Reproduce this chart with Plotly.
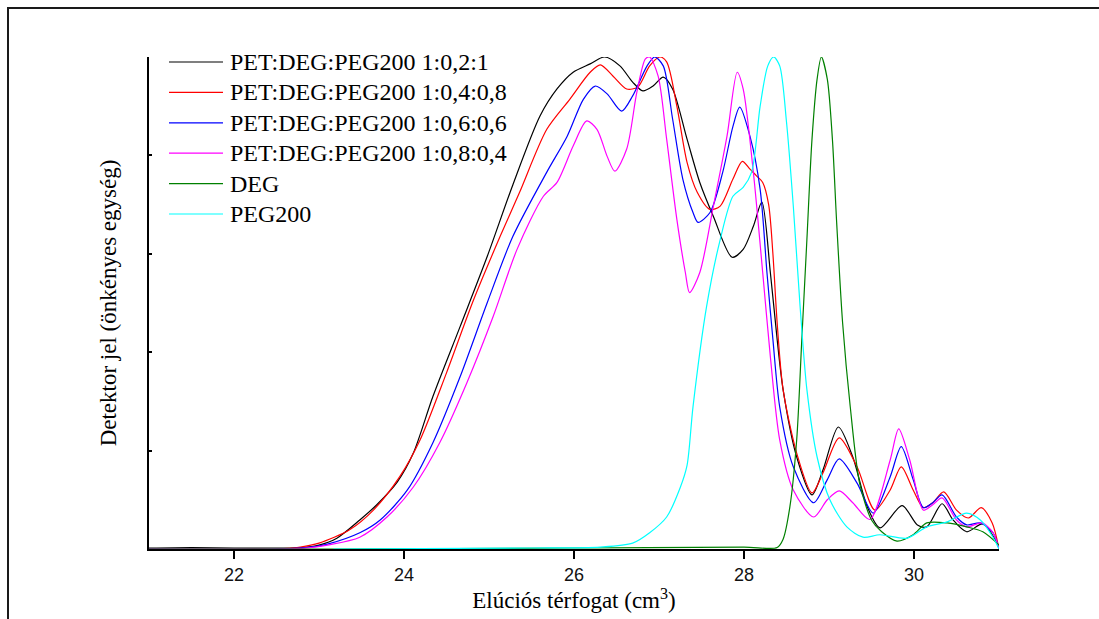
import plotly.graph_objects as go

# ---------------- data ----------------
black_x = [21.0, 21.5, 22.0, 22.5, 22.8, 23.0, 23.21, 23.48, 23.68, 23.92, 24.11, 24.34, 24.66, 24.98,
           25.28, 25.6, 25.8, 25.99, 26.19, 26.36, 26.54, 26.69, 26.81, 26.93, 27.05, 27.16, 27.33,
           27.48, 27.64, 27.86, 27.99, 28.11, 28.21, 28.31, 28.39, 28.46, 28.62, 28.8, 28.93, 29.11,
           29.28, 29.45, 29.6, 29.86, 30.04, 30.15, 30.33, 30.46, 30.62, 30.81, 31.0]
black_y = [0.002, 0.003, 0.002, 0.002, 0.003, 0.008, 0.022, 0.059, 0.09, 0.136, 0.195, 0.31, 0.452, 0.595,
           0.74, 0.88, 0.935, 0.969, 0.986, 1.0, 0.982, 0.949, 0.931, 0.941, 0.959, 0.935, 0.833,
           0.745, 0.676, 0.593, 0.609, 0.656, 0.705, 0.562, 0.426, 0.324, 0.187, 0.11, 0.161, 0.248,
           0.187, 0.086, 0.043, 0.088, 0.049, 0.045, 0.092, 0.059, 0.035, 0.051, 0.004]

red_x = [21.0, 22.5, 22.78, 23.0, 23.36, 23.64, 23.95, 24.19, 24.5, 24.82, 25.13, 25.36, 25.68, 25.95,
         26.19, 26.31, 26.46, 26.62, 26.75, 26.89, 27.01, 27.09, 27.21, 27.33, 27.45, 27.6, 27.72,
         27.87, 27.98, 28.07, 28.15, 28.22, 28.29, 28.34, 28.39, 28.46, 28.62, 28.8, 28.93, 29.12,
         29.33, 29.54, 29.72, 29.85, 29.99, 30.11, 30.22, 30.35, 30.5, 30.64, 30.79, 30.92, 31.0]
red_y = [0.0, 0.0, 0.004, 0.012, 0.039, 0.079, 0.147, 0.222, 0.358, 0.507, 0.635, 0.725, 0.853, 0.914,
         0.969, 0.984, 0.961, 0.935, 0.939, 0.982, 1.0, 0.99, 0.9, 0.786, 0.725, 0.69, 0.697,
         0.752, 0.788, 0.772, 0.758, 0.745, 0.70, 0.60, 0.46, 0.324, 0.195, 0.114, 0.155, 0.226,
         0.167, 0.079, 0.12, 0.167, 0.12, 0.084, 0.094, 0.116, 0.079, 0.063, 0.084, 0.053, 0.0]

blue_x = [21.0, 22.5, 22.85, 23.1, 23.48, 23.72, 24.04, 24.34, 24.66, 24.98, 25.28, 25.68, 25.92, 26.11,
          26.25, 26.39, 26.56, 26.69, 26.86, 26.95, 27.05, 27.16, 27.28, 27.4, 27.46, 27.6, 27.75,
          27.87, 27.95, 28.07, 28.19, 28.27, 28.34, 28.42, 28.58, 28.82, 28.98, 29.12, 29.33, 29.52,
          29.72, 29.85, 29.99, 30.11, 30.22, 30.33, 30.5, 30.62, 30.78, 30.93, 31.0]
blue_y = [0.0, 0.0, 0.003, 0.01, 0.033, 0.059, 0.12, 0.216, 0.35, 0.501, 0.635, 0.766, 0.839, 0.914,
          0.941, 0.925, 0.89, 0.921, 0.982, 1.0, 0.982, 0.874, 0.752, 0.684, 0.664, 0.684, 0.766,
          0.859, 0.898, 0.839, 0.731, 0.562, 0.426, 0.289, 0.167, 0.094, 0.141, 0.183, 0.134, 0.073,
          0.147, 0.208, 0.141, 0.084, 0.094, 0.11, 0.065, 0.049, 0.053, 0.033, 0.0]

magenta_x = [21.0, 22.5, 22.85, 23.1, 23.48, 23.8, 24.11, 24.42, 24.74, 25.05, 25.33, 25.64, 25.8, 25.99,
             26.15, 26.27, 26.39, 26.48, 26.62, 26.74, 26.84, 26.89, 26.99, 27.09, 27.21, 27.31, 27.36,
             27.48, 27.64, 27.8, 27.92, 27.99, 28.11, 28.22, 28.31, 28.42, 28.58, 28.82, 28.98, 29.12,
             29.28, 29.48, 29.72, 29.82, 29.95, 30.11, 30.22, 30.33, 30.5, 30.62, 30.8, 30.93, 31.0]
magenta_y = [0.0, 0.0, 0.002, 0.008, 0.024, 0.065, 0.126, 0.216, 0.338, 0.473, 0.609, 0.717, 0.745, 0.819,
             0.87, 0.853, 0.798, 0.768, 0.813, 0.929, 0.996, 1.0, 0.961, 0.833, 0.67, 0.562, 0.521,
             0.562, 0.697, 0.839, 0.969, 0.935, 0.766, 0.562, 0.391, 0.222, 0.12, 0.065, 0.1, 0.118,
             0.094, 0.06, 0.181, 0.244, 0.181, 0.079, 0.09, 0.104, 0.059, 0.045, 0.053, 0.033, 0.0]

deg_x = [21.0, 23.2, 26.0, 28.0, 28.39, 28.46, 28.54, 28.62, 28.68, 28.74, 28.8, 28.86, 28.91, 28.98,
         29.04, 29.09, 29.16, 29.25, 29.36, 29.5, 29.62, 29.8, 29.99, 30.15, 30.39, 30.62, 30.81, 31.0]
deg_y = [0.0, 0.0, 0.002, 0.004, 0.003, 0.02, 0.086, 0.222, 0.426, 0.629, 0.833, 0.955, 1.0, 0.955,
         0.833, 0.664, 0.46, 0.289, 0.134, 0.059, 0.035, 0.016, 0.029, 0.053, 0.053, 0.045, 0.035, 0.008]

peg_x = [23.17, 25.5, 26.31, 26.69, 26.89, 27.09, 27.25, 27.33, 27.4, 27.56, 27.72, 27.87, 27.99, 28.09,
         28.19, 28.28, 28.35, 28.42, 28.5, 28.58, 28.66, 28.74, 28.86, 29.01, 29.21, 29.4, 29.6, 29.92,
         30.15, 30.39, 30.62, 30.78, 30.93, 31.0]
peg_y = [0.0, 0.002, 0.004, 0.012, 0.033, 0.065, 0.125, 0.17, 0.289, 0.493, 0.629, 0.717, 0.735, 0.766,
         0.9, 0.982, 1.0, 0.982, 0.868, 0.697, 0.493, 0.324, 0.187, 0.1, 0.045, 0.024, 0.029, 0.022,
         0.045, 0.055, 0.073, 0.059, 0.024, 0.0]

series_names = ["PET:DEG:PEG200 1:0,2:1", "PET:DEG:PEG200 1:0,4:0,8", "PET:DEG:PEG200 1:0,6:0,6",
                "PET:DEG:PEG200 1:0,8:0,4", "DEG", "PEG200"]
series_colors = ["#000000", "#ff0000", "#0000ff", "#ff00ff", "#008000", "#00ffff"]
series_data = [(black_x, black_y), (red_x, red_y), (blue_x, blue_y),
               (magenta_x, magenta_y), (deg_x, deg_y), (peg_x, peg_y)]

x_ticks = [22, 24, 26, 28, 30]
y_ticks = [0.2, 0.4, 0.6, 0.8]

SERIF = "Liberation Serif, Times New Roman, serif"
SANS = "Liberation Sans, Arial, sans-serif"

fig = go.Figure()
for name, color, (xs, ys) in zip(series_names, series_colors, series_data):
    fig.add_trace(go.Scatter(x=xs, y=ys, mode="lines", name=name,
                             line=dict(color=color, width=1.2, shape="spline", smoothing=0.8),
                             showlegend=False))

# manual legend (lines + text) to match the reference layout
W_PLOT, H_PLOT, L, T = 850, 492, 149, 57
def px2paper_x(px):
    return (px - L) / W_PLOT
def py2paper_y(py):
    return (T + H_PLOT - py) / H_PLOT

shapes = []
annotations = []
for i, (name, color) in enumerate(zip(series_names, series_colors)):
    py = 62 + i * 30.4
    yp = py2paper_y(py)
    shapes.append(dict(type="line", xref="paper", yref="paper",
                       x0=px2paper_x(169), x1=px2paper_x(223), y0=yp, y1=yp,
                       line=dict(color=color, width=1.2)))
    annotations.append(dict(xref="paper", yref="paper", x=px2paper_x(228), y=yp,
                            xanchor="left", yanchor="middle", text=name, showarrow=False,
                            font=dict(family=SERIF, size=24, color="black")))

# outer frame
shapes.append(dict(type="rect", xref="paper", yref="paper",
                   x0=px2paper_x(8), x1=px2paper_x(1130), y0=py2paper_y(650), y1=py2paper_y(8),
                   line=dict(color="#1a1a1a", width=2), fillcolor="rgba(0,0,0,0)", layer="below"))

fig.update_layout(
    width=1099, height=619,
    margin=dict(l=L, r=1099 - L - W_PLOT, t=T, b=619 - T - H_PLOT),
    paper_bgcolor="white", plot_bgcolor="white",
    shapes=shapes, annotations=annotations,
    xaxis=dict(range=[21, 31], tickvals=x_ticks, ticks="outside", ticklen=8, tickwidth=1.5,
               tickcolor="black", showline=True, linecolor="black", linewidth=2, showgrid=False,
               zeroline=False, tickfont=dict(family=SANS, size=18, color="#111111"),
               title=dict(text="Elúciós térfogat (cm<sup>3</sup>)",
                          font=dict(family=SERIF, size=23, color="black"), standoff=0)),
    yaxis=dict(range=[0, 1.0], tickvals=y_ticks, ticks="inside", ticklen=3, tickwidth=1.5,
               tickcolor="black", showline=True, linecolor="black", linewidth=2, showgrid=False,
               zeroline=False, showticklabels=False,
               title=dict(text="Detektor jel (önkényes egység)",
                          font=dict(family=SERIF, size=23, color="black"), standoff=24)),
)

fig.write_html("out.html")
